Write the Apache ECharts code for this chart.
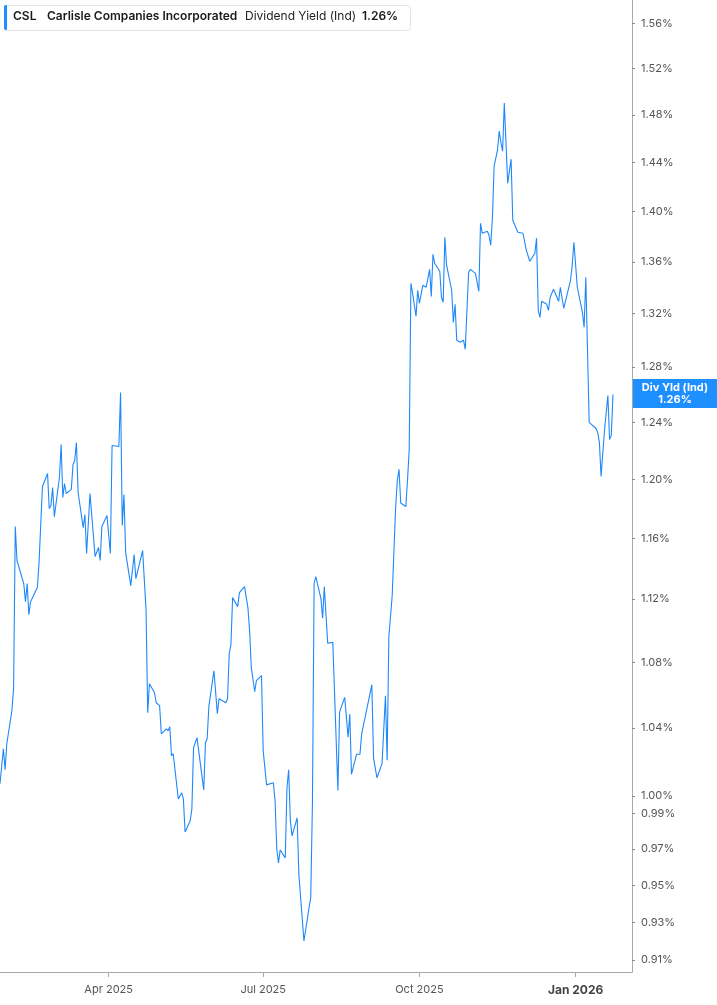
<!DOCTYPE html>
<html>
<head>
<meta charset="utf-8">
<script src="https://cdn.jsdelivr.net/npm/echarts@6/dist/echarts.min.js"></script>
<style>
html,body{margin:0;padding:0;background:#fff;}
#chart{width:717px;height:1005px;}
</style>
</head>
<body>
<div id="chart"></div>
<script>
const ticker = 'CSL';
const company = 'Carlisle Companies Incorporated';
const metric = 'Dividend Yield (Ind)';
const metricShort = 'Div Yld (Ind)';

const dates = [
'2025-01-27','2025-01-29','2025-01-30','2025-01-31','2025-02-03','2025-02-04','2025-02-05','2025-02-06','2025-02-10','2025-02-11',
'2025-02-12','2025-02-13','2025-02-14','2025-02-18','2025-02-19','2025-02-21','2025-02-24','2025-02-25','2025-02-26','2025-02-27',
'2025-02-28','2025-03-03','2025-03-04','2025-03-05','2025-03-06','2025-03-07','2025-03-10','2025-03-11','2025-03-12','2025-03-13',
'2025-03-14','2025-03-17','2025-03-18','2025-03-19','2025-03-21','2025-03-24','2025-03-25','2025-03-26','2025-03-27','2025-03-28',
'2025-03-31','2025-04-02','2025-04-03','2025-04-07','2025-04-08','2025-04-09','2025-04-10','2025-04-11','2025-04-14','2025-04-16',
'2025-04-17','2025-04-21','2025-04-23','2025-04-24','2025-04-25','2025-04-28','2025-04-29','2025-05-01','2025-05-02','2025-05-05',
'2025-05-06','2025-05-07','2025-05-08','2025-05-09','2025-05-12','2025-05-14','2025-05-15','2025-05-16','2025-05-19','2025-05-20',
'2025-05-21','2025-05-22','2025-05-23','2025-05-27','2025-05-28','2025-05-29','2025-05-30','2025-06-02','2025-06-04','2025-06-05',
'2025-06-06','2025-06-09','2025-06-10','2025-06-11','2025-06-12','2025-06-13','2025-06-16','2025-06-17','2025-06-20','2025-06-22',
'2025-06-23','2025-06-24','2025-06-25','2025-06-26','2025-06-27','2025-06-30','2025-07-01','2025-07-03','2025-07-07','2025-07-08',
'2025-07-09','2025-07-10','2025-07-11','2025-07-14','2025-07-15','2025-07-16','2025-07-17','2025-07-18','2025-07-21','2025-07-22',
'2025-07-25','2025-07-28','2025-07-29','2025-07-30','2025-07-31','2025-08-01','2025-08-04','2025-08-05','2025-08-06','2025-08-07',
'2025-08-08','2025-08-11','2025-08-14','2025-08-15','2025-08-18','2025-08-20','2025-08-21','2025-08-22','2025-08-25','2025-08-27',
'2025-08-28','2025-08-29','2025-09-03','2025-09-04','2025-09-06','2025-09-09','2025-09-11','2025-09-12','2025-09-13','2025-09-15',
'2025-09-17','2025-09-18','2025-09-19','2025-09-20','2025-09-23','2025-09-24','2025-09-25','2025-09-26','2025-09-27','2025-09-29',
'2025-09-30','2025-10-01','2025-10-02','2025-10-03','2025-10-05','2025-10-07','2025-10-08','2025-10-09','2025-10-10','2025-10-13',
'2025-10-14','2025-10-15','2025-10-16','2025-10-17','2025-10-20','2025-10-21','2025-10-22','2025-10-23','2025-10-25','2025-10-27',
'2025-10-28','2025-10-30','2025-10-31','2025-11-03','2025-11-05','2025-11-06','2025-11-07','2025-11-10','2025-11-11','2025-11-12',
'2025-11-13','2025-11-14','2025-11-16','2025-11-17','2025-11-18','2025-11-19','2025-11-20','2025-11-22','2025-11-24','2025-11-25',
'2025-11-26','2025-11-28','2025-12-01','2025-12-03','2025-12-05','2025-12-08','2025-12-09','2025-12-10','2025-12-11','2025-12-12',
'2025-12-15','2025-12-16','2025-12-17','2025-12-18','2025-12-19','2025-12-22','2025-12-23','2025-12-25','2025-12-29','2025-12-30',
'2025-12-31','2026-01-02','2026-01-05','2026-01-06','2026-01-07','2026-01-09','2026-01-13','2026-01-14','2026-01-15','2026-01-16',
'2026-01-18','2026-01-20','2026-01-21','2026-01-22','2026-01-23'
];

const yields = [
1.0071,1.0276,1.0153,1.0306,1.0504,1.0638,1.1678,1.1452,1.1301,1.1184,
1.1301,1.1101,1.1184,1.1275,1.1438,1.1950,1.2040,1.1800,1.1820,1.1943,
1.1745,1.2012,1.2243,1.1875,1.1971,1.1902,1.1930,1.2103,1.2130,1.2257,
1.1909,1.1671,1.1759,1.1498,1.1902,1.1478,1.1465,1.1538,1.1452,1.1678,
1.1752,1.1498,1.2236,1.2229,1.2615,1.1685,1.1895,1.1504,1.1288,1.1491,
1.1333,1.1518,1.1133,1.0492,1.0668,1.0613,1.0552,1.0534,1.0365,1.0395,
1.0383,1.0407,1.0235,1.0247,0.9984,1.0019,0.9984,0.9796,0.9859,0.9927,
1.0282,1.0276,1.0342,1.0036,1.0312,1.0336,1.0528,1.0748,1.0486,1.0576,
1.0583,1.0552,1.0576,1.0854,1.0911,1.1210,1.1152,1.1242,1.1281,1.1146,
1.0999,1.0767,1.0767,1.0619,1.0687,1.0718,1.0264,1.0065,1.0077,0.9973,
0.9701,0.9623,0.9695,0.9651,1.0048,1.0153,0.9859,0.9774,0.9876,0.9562,
0.9200,0.9377,0.9431,0.9956,1.1303,1.1347,1.1204,1.1078,1.1281,1.1292,
1.0920,1.0925,1.0033,1.0497,1.0585,1.0345,1.0483,1.0126,1.0244,1.0244,
1.0365,1.0375,1.0662,1.0221,1.0106,1.0189,1.0594,1.0209,1.0957,1.1226,
1.1809,1.1995,1.2069,1.1837,1.1814,1.1995,1.2207,1.3433,1.3356,1.3180,
1.3379,1.3279,1.3264,1.3417,1.3402,1.3541,1.3332,1.3659,1.3588,1.3526,
1.3325,1.3287,1.3794,1.3573,1.3379,1.3134,1.3272,1.2999,1.2984,1.2999,
1.2932,1.3518,1.3541,1.3510,1.3371,1.3905,1.3825,1.3841,1.3809,1.3730,
1.3945,1.4369,1.4502,1.4662,1.4569,1.4494,1.4900,1.4229,1.4427,1.3929,
1.3913,1.3833,1.3825,1.3690,1.3604,1.3667,1.3786,1.3225,1.3172,1.3294,
1.3271,1.3225,1.3325,1.3317,1.3386,1.3294,1.3402,1.3241,1.3456,1.3573,
1.3754,1.3402,1.3210,1.3097,1.3479,1.2399,1.2356,1.2328,1.2257,1.2019,
1.2342,1.2593,1.2278,1.2307,1.2600
];

const yTicks = [0.91,0.93,0.95,0.97,0.99,1.00,1.04,1.08,1.12,1.16,1.20,1.24,1.28,1.32,1.36,1.40,1.44,1.48,1.52,1.56];
const xTickDates = ['2025-04-01','2025-07-01','2025-10-01','2026-01-01'];
const monthNames = ['Jan','Feb','Mar','Apr','May','Jun','Jul','Aug','Sep','Oct','Nov','Dec'];

function toTime(s) {
  const p = s.split('-').map(Number);
  return new Date(p[0], p[1] - 1, p[2]).getTime();
}

const lastVal = yields[yields.length - 1];
const lastText = lastVal.toFixed(2) + '%';
const seriesData = dates.map((d, i) => [toTime(d), yields[i]]);
const xTicks = xTickDates.map(toTime);
const lastTime = toTime(dates[dates.length - 1]);

const chart = echarts.init(document.getElementById('chart'), null, {renderer: 'canvas'});
const FONT = 'Inter, "Noto Sans", sans-serif';

chart.setOption({
  animation: false,
  backgroundColor: '#ffffff',
  textStyle: {fontFamily: FONT},
  grid: {left: 0, right: 85, top: 0, bottom: 33, containLabel: false},
  xAxis: {
    type: 'value',
    min: new Date(2025, 0, 27, 0).getTime(),
    max: new Date(2026, 1, 3, 5).getTime(),
    scale: true,
    axisLine: {show: true, lineStyle: {color: '#a8a8a8', width: 1}},
    axisTick: {show: true, length: 5, lineStyle: {color: '#a8a8a8'}, customValues: xTicks},
    splitLine: {show: false},
    axisLabel: {
      customValues: xTicks,
      margin: 12,
      fontSize: 11,
      color: '#555',
      fontFamily: FONT,
      formatter: function (val) {
        const d = new Date(val);
        const s = monthNames[d.getMonth()] + ' ' + d.getFullYear();
        return d.getMonth() === 0 ? '{b|' + s + '}' : s;
      },
      rich: {b: {fontWeight: 'bold', fontSize: 12, color: '#444', fontFamily: FONT}}
    }
  },
  yAxis: {
    type: 'log',
    logBase: 10,
    position: 'right',
    min: 0.90374,
    max: 1.5811,
    axisLine: {show: true, lineStyle: {color: '#a8a8a8', width: 1}},
    axisTick: {show: true, length: 3, lineStyle: {color: '#888'}, customValues: yTicks},
    splitLine: {show: false},
    axisLabel: {
      customValues: yTicks,
      margin: 9,
      fontSize: 11,
      color: '#555',
      fontFamily: FONT,
      formatter: function (v) { return Number(v).toFixed(2) + '%'; }
    }
  },
  series: [{
    type: 'line',
    data: seriesData,
    showSymbol: false,
    symbol: 'none',
    lineStyle: {color: '#1e88fa', width: 1.1},
    itemStyle: {color: '#1e88fa'},
    clip: true,
    markPoint: {
      silent: true,
      symbol: 'rect',
      symbolSize: [84, 29],
      symbolOffset: [62, -1],
      itemStyle: {color: '#1e8fff'},
      label: {
        show: true,
        position: 'inside',
        formatter: function () { return metricShort + '\n' + lastText; },
        color: '#ffffff',
        fontWeight: 'bold',
        fontSize: 11,
        lineHeight: 12.5,
        align: 'center',
        fontFamily: FONT
      },
      data: [{coord: [lastTime, lastVal]}]
    }
  }],
  graphic: [
    {type: 'rect', left: 4, top: 5, z: 10, shape: {width: 406, height: 25, r: 3},
     style: {fill: '#ffffff', stroke: '#e4e4e4', lineWidth: 1}},
    {type: 'rect', left: 4, top: 5, z: 11, shape: {width: 3, height: 25, r: [2, 0, 0, 2]},
     style: {fill: '#1e8fff'}},
    {type: 'text', left: 13, top: 10, z: 12,
     style: {text: ticker, font: '600 12px ' + FONT, fill: '#1a1a1a'}},
    {type: 'text', left: 47, top: 10, z: 12,
     style: {text: company, font: '600 12px ' + FONT, fill: '#1a1a1a'}},
    {type: 'text', left: 245, top: 10, z: 12,
     style: {text: metric, font: '12px ' + FONT, fill: '#222'}},
    {type: 'text', left: 362, top: 10, z: 12,
     style: {text: lastText, font: '600 12px ' + FONT, fill: '#1a1a1a'}}
  ]
});
</script>
</body>
</html>
